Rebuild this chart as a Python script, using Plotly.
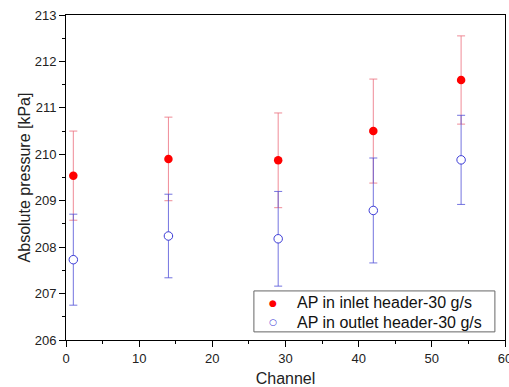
import plotly.graph_objects as go

channels = [1, 14, 29, 42, 54]
inlet_ap = [209.54, 209.9, 209.87, 210.5, 211.6]
inlet_err = [0.96, 0.9, 1.02, 1.12, 0.95]
outlet_ap = [207.73, 208.24, 208.18, 208.79, 209.88]
outlet_err = [0.98, 0.9, 1.02, 1.13, 0.96]
x_ticks = [0, 10, 20, 30, 40, 50, 60]
y_ticks = [206, 207, 208, 209, 210, 211, 212, 213]
names = ["AP in inlet header-30 g/s", "AP in outlet header-30 g/s"]

FONT = "Liberation Sans, Arial"
RED = "#ff0000"
BLUE = "#3b3bd6"

fig = go.Figure()
fig.add_trace(go.Scatter(
    x=channels, y=inlet_ap, mode="markers", name=names[0], showlegend=False,
    marker=dict(size=8.5, color=RED, symbol="circle"),
    error_y=dict(type="data", array=inlet_err, visible=True,
                 color="rgba(235,110,125,0.8)", thickness=1, width=4),
))
fig.add_trace(go.Scatter(
    x=channels, y=outlet_ap, mode="markers", name=names[1], showlegend=False,
    marker=dict(size=8.5, color="white", symbol="circle", line=dict(color=BLUE, width=1)),
    error_y=dict(type="data", array=outlet_err, visible=True,
                 color="rgba(80,80,215,0.8)", thickness=1, width=4),
))

axis_common = dict(
    showgrid=False, zeroline=False, showline=True, linecolor="black", linewidth=1,
    mirror=True, ticks="outside", ticklen=6, tickcolor="black",
    tickfont=dict(family=FONT, size=13, color="#222"),
    minor=dict(ticks="outside", ticklen=3, tickcolor="black"),
    ticklabeloverflow="allow", automargin=False,
)
fig.update_xaxes(range=[0, 60], tickvals=x_ticks, minor_dtick=5,
                 title=dict(text="Channel", font=dict(family=FONT, size=16, color="#222"), standoff=10),
                 **axis_common)
fig.update_yaxes(range=[206, 213], tickvals=y_ticks, minor_dtick=0.5,
                 title=dict(text="Absolute pressure [kPa]", font=dict(family=FONT, size=16, color="#222"), standoff=0),
                 **axis_common)

# compact legend box (drawn as shape + text annotations)
fig.add_shape(type="rect", xref="paper", yref="paper", x0=0.428, x1=0.977, y0=0.025, y1=0.151,
              line=dict(color="#666", width=1), fillcolor="white", layer="above")
rows_y = [0.115, 0.0545]
symbols = [("●", RED), ("○", BLUE)]
for name, yy, (sym, col) in zip(names, rows_y, symbols):
    fig.add_annotation(xref="paper", yref="paper", x=0.4715, y=yy, text=sym, showarrow=False,
                       xanchor="center", yanchor="middle",
                       font=dict(family="DejaVu Sans", size=9, color=col))
    fig.add_annotation(xref="paper", yref="paper", x=0.5216, y=yy, text=name, showarrow=False,
                       xanchor="left", yanchor="middle",
                       font=dict(family=FONT, size=16, color="#111"))

fig.update_layout(
    width=509, height=387,
    margin=dict(l=66, r=4, t=15, b=47),
    plot_bgcolor="white", paper_bgcolor="white",
    showlegend=False,
)

fig.write_html("out.html")
